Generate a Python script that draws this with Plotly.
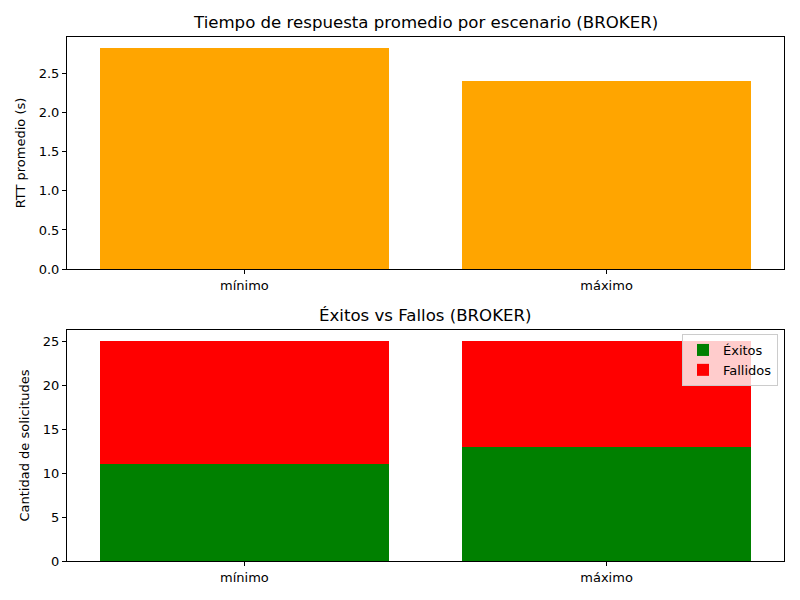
import plotly.graph_objects as go

escenarios = ["mínimo", "máximo"]
rtt_promedio = [2.83, 2.41]
exitos = [11, 13]
fallidos = [14, 12]

FONT = "DejaVu Sans"
H = 592.0
fig = go.Figure()

fig.add_trace(go.Bar(x=escenarios, y=rtt_promedio, marker=dict(color="orange", line=dict(width=0)),
                     width=0.8, showlegend=False, xaxis="x", yaxis="y"))
fig.add_trace(go.Bar(x=escenarios, y=exitos, name="Éxitos", marker=dict(color="green", line=dict(width=0)),
                     width=0.8, xaxis="x2", yaxis="y2"))
fig.add_trace(go.Bar(x=escenarios, y=fallidos, name="Fallidos", marker=dict(color="red", line=dict(width=0)),
                     width=0.8, xaxis="x2", yaxis="y2"))

axcommon = dict(showline=True, mirror=True, linecolor="black", linewidth=1, ticks="outside",
                ticklen=4, tickcolor="black", showgrid=False, zeroline=False,
                tickfont=dict(family=FONT, size=13, color="black"))

xd = [67/800, 784/800]
fig.update_layout(
    width=800, height=600, margin=dict(l=0, r=0, t=0, b=0),
    paper_bgcolor="white", plot_bgcolor="white", barmode="stack",
    font=dict(family=FONT, color="black"),
    xaxis=dict(domain=xd, anchor="y", range=[-0.49, 1.49], **axcommon),
    yaxis=dict(domain=[1-269/H, 1-37/H], anchor="x", range=[0, 2.9715], dtick=0.5, tickformat=".1f",
               title=dict(text="RTT promedio (s)", font=dict(family=FONT, size=13), standoff=10), **axcommon),
    xaxis2=dict(domain=xd, anchor="y2", range=[-0.49, 1.49], **axcommon),
    yaxis2=dict(domain=[1-561/H, 1-330/H], anchor="x2", range=[0, 26.25], dtick=5,
                title=dict(text="Cantidad de solicitudes", font=dict(family=FONT, size=13), standoff=10), **axcommon),
    legend=dict(x=778/800, xanchor="right", y=1-334/H, yanchor="top", bgcolor="rgba(255,255,255,0.8)",
                bordercolor="#cccccc", borderwidth=1, font=dict(family=FONT, size=13), traceorder="normal",
                tracegroupgap=0, itemwidth=30),
    annotations=[
        dict(text="Tiempo de respuesta promedio por escenario (BROKER)", x=(xd[0]+xd[1])/2, y=1-34/H,
             xref="paper", yref="paper", xanchor="center", yanchor="bottom", showarrow=False,
             font=dict(family=FONT, size=16.6)),
        dict(text="Éxitos vs Fallos (BROKER)", x=(xd[0]+xd[1])/2, y=1-327/H,
             xref="paper", yref="paper", xanchor="center", yanchor="bottom", showarrow=False,
             font=dict(family=FONT, size=16.6)),
    ],
)

fig.write_html("out.html")
